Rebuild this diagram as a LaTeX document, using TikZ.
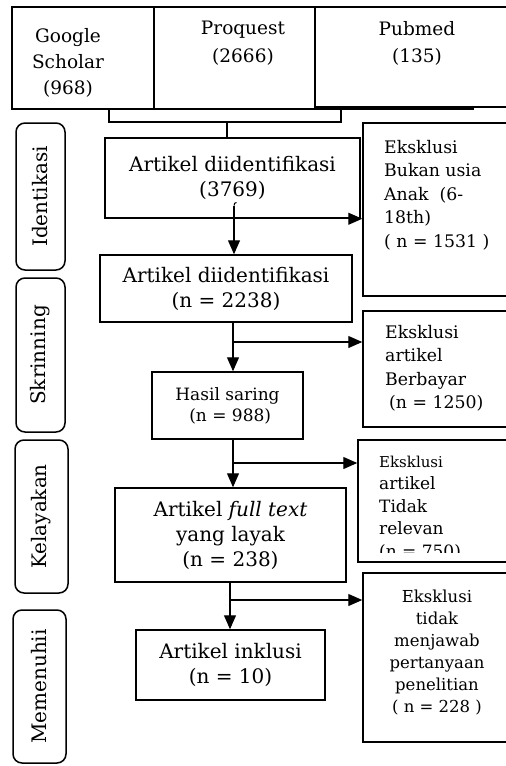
\documentclass[tikz,border=0pt]{standalone}
\usepackage{fontspec}
\setmainfont{DejaVu Serif}
\usetikzlibrary{arrows.meta}
\newcommand{\fbig}{\fontsize{20}{25}\selectfont}
\newcommand{\fmid}{\fontsize{17.3}{23.5}\selectfont}
\newcommand{\fsml}{\fontsize{16.5}{22}\selectfont}
\begin{document}
\begin{tikzpicture}[x=1pt,y=-1pt,
  box/.style={draw, line width=1.5pt, inner sep=0pt, align=center, fill=white},
  labbox/.style={draw, line width=1.5pt, rounded corners=9pt, inner sep=0pt, rotate=90, font=\fbig},
  txt/.style={inner sep=0pt},
  conn/.style={line width=1.5pt},
  arr/.style={line width=1.2pt, -{Triangle[length=14pt,width=12pt]}}]
\useasboundingbox (0,0) rectangle (506,766);

% top sources
\node[box, minimum width=319, minimum height=102] (p) at (313.5,58) {};
\node[box, minimum width=142, minimum height=102] (g) at (83,58) {};
\node[box, minimum width=205, minimum height=100] (m) at (417.5,57) {};
\node[txt, anchor=north, align=center, font=\fontsize{18.5}{26}\selectfont] (gt) at (68,28) {Google\\Scholar\\(968)};
\node[txt, anchor=north, align=center, font=\fontsize{18.5}{28}\selectfont] (pt) at (243,21) {Proquest\\(2666)};
\node[txt, anchor=north, align=center, font=\fontsize{18.5}{27}\selectfont] (mt) at (417,21) {Pubmed\\(135)};

% stage labels
\node[labbox, minimum width=147, minimum height=49] (l1) at (40.5,196.5) {Identikasi};
\node[labbox, minimum width=154, minimum height=49] (l2) at (40.5,355) {Skrinning};
\node[labbox, minimum width=153, minimum height=53] (l3) at (41.5,516.5) {Kelayakan};
\node[labbox, minimum width=153, minimum height=53] (l4) at (39.5,686.5) {Memenuhii};

% main boxes
\node[box, minimum width=255, minimum height=80, font=\fbig] (b1) at (232.5,178) {Artikel diidentifikasi\\(3769)};
\node[box, minimum width=252, minimum height=67, font=\fbig] (b2) at (226,288.5) {Artikel diidentifikasi\\(n = 2238)};
\node[box, minimum width=151, minimum height=67, font=\fontsize{17}{21}\selectfont] (b3) at (227.5,405.5) {Hasil saring\\\ (n = 988)};
\node[box, minimum width=231, minimum height=94, font=\fbig] (b4) at (230.5,535) {Artikel \textit{full text}\\yang layak\\(n = 238)};
\node[box, minimum width=189, minimum height=70, font=\fbig] (b5) at (230.5,665) {Artikel inklusi\\(n = 10)};

% exclusion boxes
\node[box, minimum width=157, minimum height=173] (e1) at (441.5,209.5) {};
\node[box, minimum width=157, minimum height=116] (e2) at (441.5,369) {};
\node[box, minimum width=162, minimum height=122] (e3) at (439,501) {};
\node[box, minimum width=157, minimum height=169] (e4) at (441.5,657.5) {};

\node[txt, anchor=north west, align=left, font=\fmid] (e1t) at (384,140) {Eksklusi\\Bukan usia\\Anak\ \ (6-\\18th)\\( n = 1531 )};
\node[txt, anchor=north west, align=left, font=\fmid] (e2t) at (385,325) {Eksklusi\\artikel\\Berbayar\\\hspace{4pt}(n = 1250)};
\begin{scope}
\clip (358,440) rectangle (520,552);
\node[txt, anchor=north west, align=left, font=\fontsize{17}{22.5}\selectfont] (e3t) at (379,455.5) {{\fontsize{15}{20}\selectfont Eksklusi}\\artikel\\Tidak\\relevan\\(n = 750)};
\end{scope}
\node[txt, anchor=north, align=center, font=\fsml] (e4t) at (437,589.5) {Eksklusi\\tidak\\menjawab\\pertanyaan\\penelitian\\( n = 228 )};

% bracket joining the sources
\coordinate (brL) at (109,122);
\coordinate (brR) at (341,122);
\coordinate (brM) at (227,122);
\draw[conn] (brL |- g.south) -- (brL) -- (brR) -- (brR |- m.south);
\draw[conn] (brM) -- (brM |- b1.north);

% arrows
\coordinate (a1) at (234,205.5);
\coordinate (a1h) at (236.5,202.5);
\draw[line width=1pt] (a1) .. controls (234,203.5) and (235,202.5) .. (a1h);
\draw[arr] (a1) -- (a1 |- b2.north);
\draw[arr] (b1.south east) -- (b1.south east -| e1.west);

\coordinate (j2) at (233,342);
\draw[arr] (j2 |- b2.south) -- (j2 |- b3.north);
\draw[arr] (j2) -- (j2 -| e2.west);

\coordinate (j3) at (233,463);
\draw[arr] (j3 |- b3.south) -- (j3 |- b4.north);
\draw[arr] (j3) -- (j3 -| e3.west);

\coordinate (j4) at (230,600);
\draw[arr] (j4 |- b4.south) -- (j4 |- b5.north);
\draw[arr] (j4) -- (j4 -| e4.west);
\end{tikzpicture}
\end{document}
